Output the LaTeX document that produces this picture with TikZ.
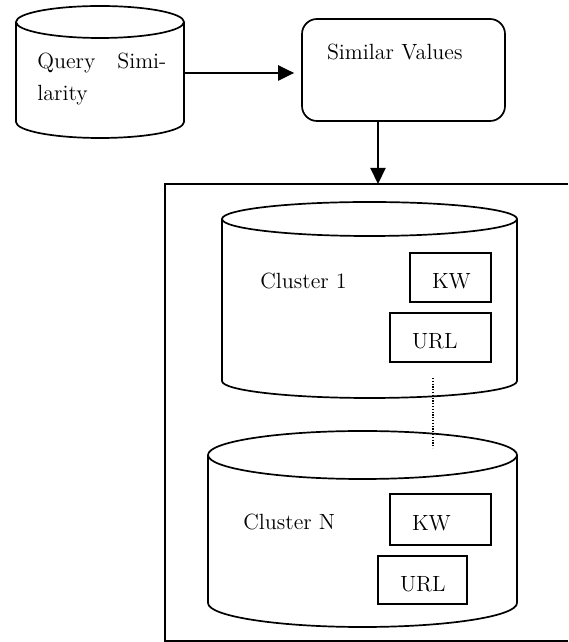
\documentclass[tikz,border=0pt]{standalone}
\usepackage{tikz}
\usetikzlibrary{arrows.meta}

% cylinder: centre x, top y, bottom y, x radius, y radius
\newcommand{\drum}[5]{%
  \draw[outline] (#1-#4,#2) -- (#1-#4,#3) arc (180:360:#4 and #5) -- (#1+#4,#2);
  \draw[outline] (#1,#2) ellipse (#4 and #5);
}

\begin{document}
\begin{tikzpicture}[x=0.5pt, y=0.5pt,
    every node/.style={font=\fontsize{11}{13.5}\selectfont},
    outline/.style={line width=0.85pt},
    field/.style={draw, line width=0.85pt, inner xsep=11pt, align=left, text height=11.5pt, text depth=0pt},
    arr/.style={line width=1.1pt, -{Triangle[length=8pt,width=7.5pt]}},
    lbl/.style={inner sep=0pt, anchor=base west}]
  \useasboundingbox (0,0) rectangle (568,642);

  % query similarity store
  \drum{100}{620}{520}{84}{16}
  \node[inner sep=0pt, anchor=north west, text width=64.5pt, align=left] (qs) at (37,589) {Query \hfill Simi-\\[2.5pt]larity};
  \coordinate (qs-e) at (184,569);

  \node[field, rounded corners=7.5pt, minimum width=101.5pt, minimum height=51pt, text width=76.5pt, inner xsep=12.5pt, text height=7pt, text depth=17pt] (sim) at (403.5,572) {Similar Values};
  \draw[arr, shorten >=3.5pt] (qs-e) -- (qs-e -| sim.west);

  % frame round the clusters
  \coordinate (inlet) at (378,458);
  \draw[line width=1pt] (568,458) -- (164.5,458) -- (164.5,1) -- (568,1);
  \draw[arr] (sim.south -| inlet) -- (inlet);

  % cluster 1
  \drum{369.5}{423}{261}{147.5}{17}
  \node[lbl] (c1) at (260,353) {Cluster 1};
  \node[field, minimum width=40.5pt, minimum height=24.5pt, text width=18.5pt] (kw1) at (450.5,364.5) {KW};
  \node[field, minimum width=50.5pt, minimum height=24.5pt, text width=28.5pt] (url1) at (440.5,304.5) {URL};

  % cluster N
  \drum{362.5}{187}{39}{154.5}{24}
  \node[lbl] (cn) at (243,112) {Cluster N};
  \node[field, minimum width=50.5pt, minimum height=25.5pt, text width=28.5pt] (kwn) at (440.5,122.5) {KW};
  \node[field, minimum width=44.5pt, minimum height=24pt, text width=22.5pt] (urln) at (422.5,62) {URL};

  % clusters in between
  \coordinate (gap-top) at (433,264);
  \coordinate (gap-bot) at (433,194);
  \draw[line width=0.6pt, dash pattern=on 0.6pt off 0.8pt] (gap-top) -- (gap-bot);
\end{tikzpicture}
\end{document}
